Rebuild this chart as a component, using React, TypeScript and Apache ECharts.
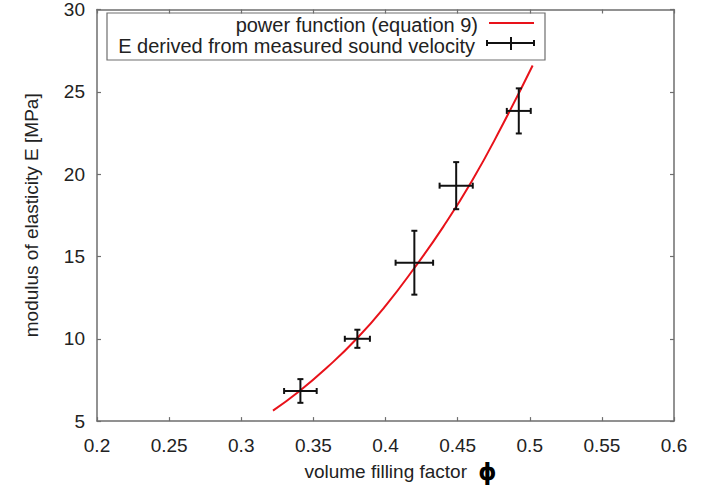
import React, { useEffect, useRef } from "react";
import * as echarts from "echarts";

// measured points (volume filling factor, modulus E) with error bars
const phi = [0.341, 0.3805, 0.42, 0.449, 0.4924];
const modulusE = [6.83, 10.0, 14.62, 19.3, 23.84];
const phiErr = [0.0113, 0.0087, 0.013, 0.0115, 0.0083];
const modulusErr = [0.72, 0.55, 1.94, 1.43, 1.37];

// power function curve
const curvePhi = [0.322, 0.34, 0.36, 0.38, 0.4, 0.42, 0.44, 0.46, 0.48, 0.502];
const curveE = [5.64, 6.8, 8.3, 10.0, 12.0, 14.3, 16.8, 19.6, 22.8, 26.6];

const xTicks = { min: 0.2, max: 0.6, interval: 0.05 };
const yTicks = { min: 5, max: 30, interval: 5 };

const legendLabels = ["power function (equation 9)", "E derived from measured sound velocity"];

const FONT = "'Liberation Sans', Arial, sans-serif";
const AXIS_COLOR = "#6e6e6e";
const TEXT_COLOR = "#222";

export default function App() {
  const ref = useRef<HTMLDivElement>(null);
  useEffect(() => {
    if (!ref.current) return;
    const chart = echarts.init(ref.current, undefined, { renderer: "svg" });
    const axisCommon = {
      axisLine: { show: true, lineStyle: { color: AXIS_COLOR, width: 1.5 } },
      axisTick: { show: true, inside: true, length: 4, lineStyle: { color: AXIS_COLOR, width: 1.2 } },
      splitLine: { show: false },
    };
    const errData = phi.map((p, i) => [p, modulusE[i], phiErr[i], modulusErr[i]]);
    chart.setOption({
      animation: false,
      backgroundColor: "#fff",
      grid: { left: 97, right: 48, top: 9, bottom: 60, containLabel: false },
      xAxis: [
        {
          type: "value",
          ...xTicks,
          ...axisCommon,
          position: "bottom",
          axisLabel: {
            color: TEXT_COLOR,
            fontFamily: FONT,
            fontSize: 19,
            margin: 15,
            formatter: (v: number) => String(+v.toFixed(2)),
          },
          name: "volume filling factor {p|ϕ}",
          nameLocation: "middle",
          nameGap: 36,
          nameTextStyle: {
            color: TEXT_COLOR,
            fontFamily: FONT,
            fontSize: 19,
            padding: [0, 0, 0, 30],
            rich: {
              p: { fontFamily: "'DejaVu Sans', sans-serif", fontWeight: "bold", fontSize: 23, color: "#000", padding: [0, 0, 0, 6] },
            },
          },
        },
        {
          type: "value",
          ...xTicks,
          ...axisCommon,
          position: "top",
          axisLabel: { show: false },
        },
      ],
      yAxis: [
        {
          type: "value",
          ...yTicks,
          ...axisCommon,
          position: "left",
          axisLabel: {
            color: TEXT_COLOR,
            fontFamily: FONT,
            fontSize: 19,
            margin: 12,
            padding: [6, 0, 0, 0],
          },
          name: "modulus of elasticity E [MPa]",
          nameLocation: "middle",
          nameRotate: 90,
          nameGap: 56,
          nameTextStyle: { color: TEXT_COLOR, fontFamily: FONT, fontSize: 19 },
        },
        {
          type: "value",
          ...yTicks,
          ...axisCommon,
          position: "right",
          axisLabel: { show: false },
        },
      ],
      series: [
        {
          name: legendLabels[0],
          type: "line",
          data: curvePhi.map((p, i) => [p, curveE[i]]),
          smooth: true,
          showSymbol: false,
          symbol: "none",
          lineStyle: { color: "#e8121a", width: 2 },
          z: 2,
        },
        {
          name: legendLabels[1],
          type: "custom",
          data: errData,
          z: 3,
          renderItem: (params: any, api: any) => {
            const x = api.value(0);
            const y = api.value(1);
            const dx = api.value(2);
            const dy = api.value(3);
            const c = api.coord([x, y]);
            const l = api.coord([x - dx, y]);
            const r = api.coord([x + dx, y]);
            const t = api.coord([x, y + dy]);
            const b = api.coord([x, y - dy]);
            const st = { stroke: "#111", lineWidth: 2 };
            const cap = 3;
            return {
              type: "group",
              children: [
                { type: "line", shape: { x1: l[0], y1: c[1], x2: r[0], y2: c[1] }, style: st },
                { type: "line", shape: { x1: l[0], y1: c[1] - cap, x2: l[0], y2: c[1] + cap }, style: st },
                { type: "line", shape: { x1: r[0], y1: c[1] - cap, x2: r[0], y2: c[1] + cap }, style: st },
                { type: "line", shape: { x1: c[0], y1: t[1], x2: c[0], y2: b[1] }, style: st },
                { type: "line", shape: { x1: c[0] - cap, y1: t[1], x2: c[0] + cap, y2: t[1] }, style: st },
                { type: "line", shape: { x1: c[0] - cap, y1: b[1], x2: c[0] + cap, y2: b[1] }, style: st },
              ],
            };
          },
        },
      ],
      graphic: [
        {
          type: "group",
          z: 100,
          children: [
            { type: "rect", shape: { x: 107, y: 13, width: 438, height: 47 }, style: { fill: "#fff", stroke: AXIS_COLOR, lineWidth: 1.2 } },
            { type: "text", x: 478, y: 25, style: { text: legendLabels[0], align: "right", verticalAlign: "middle", fill: TEXT_COLOR, font: `20px ${FONT}` } },
            { type: "line", shape: { x1: 489, y1: 23, x2: 534, y2: 23 }, style: { stroke: "#e8121a", lineWidth: 2 } },
            { type: "text", x: 475, y: 46, style: { text: legendLabels[1], align: "right", verticalAlign: "middle", fill: TEXT_COLOR, font: `20px ${FONT}` } },
            { type: "line", shape: { x1: 487, y1: 43, x2: 534, y2: 43 }, style: { stroke: "#111", lineWidth: 2 } },
            { type: "line", shape: { x1: 487, y1: 40, x2: 487, y2: 46 }, style: { stroke: "#111", lineWidth: 2 } },
            { type: "line", shape: { x1: 534, y1: 40, x2: 534, y2: 46 }, style: { stroke: "#111", lineWidth: 2 } },
            { type: "line", shape: { x1: 511, y1: 37, x2: 511, y2: 50 }, style: { stroke: "#111", lineWidth: 2 } },
          ],
        },
      ],
    });
    return () => chart.dispose();
  }, []);
  return <div ref={ref} style={{ width: 722, height: 488, position: "absolute", left: 0, top: 0 }} />;
}
